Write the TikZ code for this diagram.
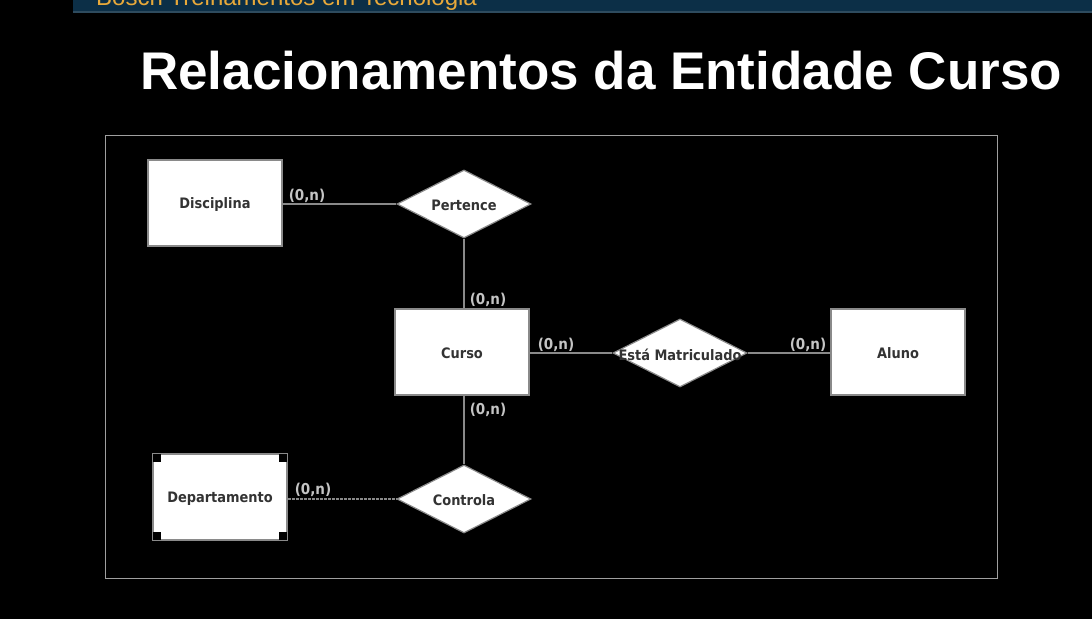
\documentclass[tikz,border=0pt]{standalone}
\usepackage{fontspec}
\setmainfont{Liberation Sans}
\newfontfamily\erfont{DejaVu Sans Condensed}
\usetikzlibrary{shapes.geometric}
\definecolor{barblue}{HTML}{0C2F47}
\definecolor{barline}{HTML}{2E4B5E}
\definecolor{barorange}{HTML}{E8A93A}
\definecolor{ertext}{HTML}{333333}
\definecolor{erline}{HTML}{8A8A8A}
\definecolor{cardtext}{HTML}{C4C4C4}
\tikzset{
  ent/.style={draw=erline, fill=white, line width=1.3pt, minimum width=134pt, minimum height=86pt, inner sep=0pt},
  rel/.style={diamond, draw=erline, fill=white, line width=1.2pt, minimum width=134pt, minimum height=68pt, inner sep=0pt},
  ertxt/.style={text=ertext, font=\erfont\bfseries\fontsize{14.4}{16}\selectfont, inner sep=0pt, yshift=-1.5pt},
  card/.style={text=cardtext, font=\erfont\bfseries\fontsize{15}{17}\selectfont, inner sep=0pt},
  conn/.style={draw=erline, line width=1.2pt},
  handle/.style={fill=black, minimum size=8pt, inner sep=0pt}
}
\begin{document}
\begin{tikzpicture}[x=1pt,y=-1pt]
\useasboundingbox[fill=black] (0,0) rectangle (1092,619);
% top bar
\begin{scope}
\clip (73,0) rectangle (1092,13);
\fill[barblue] (73,0) rectangle (1092,13);
\fill[barline] (73,11) rectangle (1092,13);
\node[anchor=base west, text=barorange, font=\fontsize{24}{26}\selectfont, inner sep=0pt] (bartitle) at (96,5) {Bosch Treinamentos em Tecnologia};
\end{scope}
% title
\node[anchor=base, text=white, font=\bfseries\fontsize{53}{60}\selectfont, inner sep=0pt] (title) at (601,89) {Relacionamentos da Entidade Curso};
% frame
\draw[draw=gray!75, line width=1pt] (105,135) rectangle (997,578);
% entities
\node[ent] (disc) at (215,203) {};
\node[ertxt] (disct) at (disc) {Disciplina};
\node[ent] (curso) at (462,352) {};
\node[ertxt] (cursot) at (curso) {Curso};
\node[ent] (aluno) at (898,352) {};
\node[ertxt] (alunot) at (aluno) {Aluno};
\node[ent] (dep) at (220,497) {};
\node[ertxt] (dept) at (dep) {Departamento};
\node[handle, anchor=north west] (h1) at (dep.north west) {};
\node[handle, anchor=north east] (h2) at (dep.north east) {};
\node[handle, anchor=south west] (h3) at (dep.south west) {};
\node[handle, anchor=south east] (h4) at (dep.south east) {};
% relationships
\node[rel] (pert) at (464,204) {};
\node[ertxt] (pertt) at (pert) {Pertence};
\node[rel] (matr) at (680,353) {};
\node[ertxt] (matrt) at (matr) {Está Matriculado};
\node[rel] (ctrl) at (464,499) {};
\node[ertxt] (ctrlt) at (ctrl) {Controla};
% connectors
\draw[conn] (disc.east |- pert.west) -- (pert.west);
\draw[conn] (pert.south) -- (pert.south |- curso.north);
\draw[conn] (curso.east |- matr.west) -- (matr.west);
\draw[conn] (matr.east) -- (aluno.west |- matr.east);
\draw[conn] (ctrl.north |- curso.south) -- (ctrl.north);
\draw[conn, dash pattern=on 3pt off 1pt] (dep.east |- ctrl.west) -- (ctrl.west);
% cardinalities
\node[card] (c1) at (307,196) {(0,n)};
\node[card] (c2) at (488,300) {(0,n)};
\node[card] (c3) at (556,345) {(0,n)};
\node[card] (c4) at (808,345) {(0,n)};
\node[card] (c5) at (488,410) {(0,n)};
\node[card] (c6) at (313,490) {(0,n)};
\end{tikzpicture}
\end{document}
